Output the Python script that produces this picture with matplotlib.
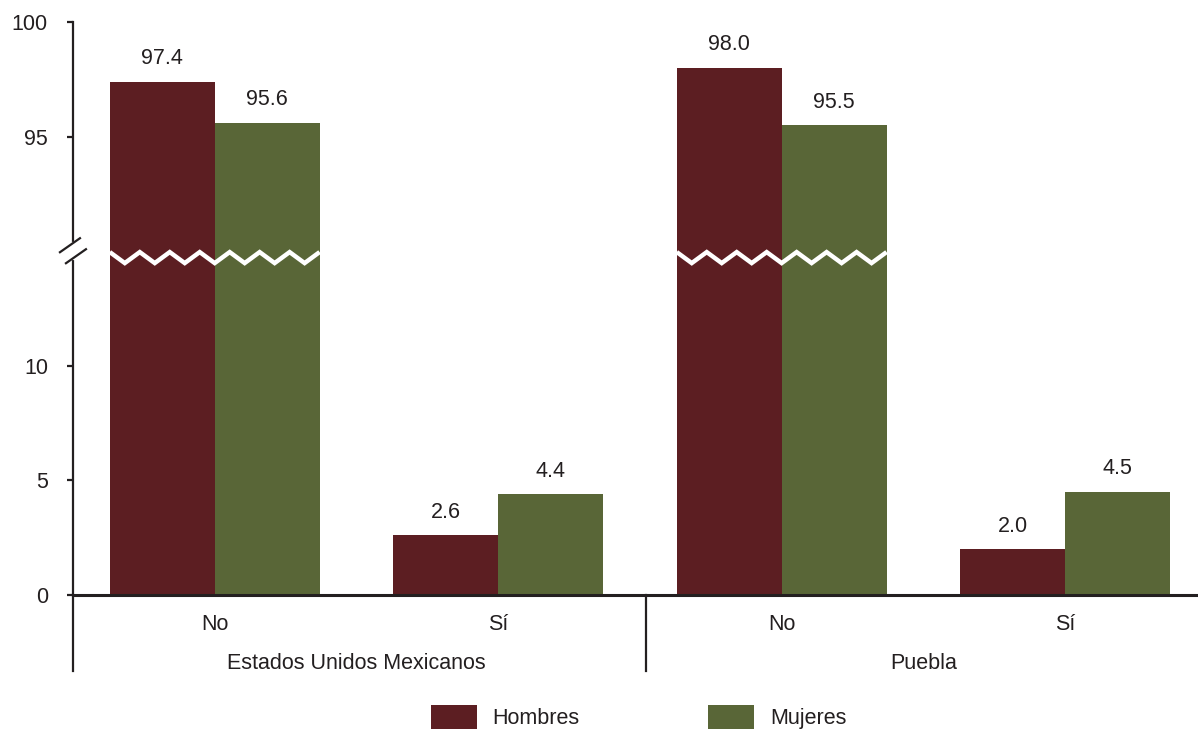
import numpy as np
import matplotlib.pyplot as plt
from matplotlib.transforms import blended_transform_factory, offset_copy

plt.rcParams['font.family'] = ['Liberation Sans', 'DejaVu Sans']

categories = ["No", "Sí", "No", "Sí"]
groups = ["Estados Unidos Mexicanos", "Puebla"]
hombres = [97.4, 2.6, 98.0, 2.0]
mujeres = [95.6, 4.4, 95.5, 4.5]
series_names = ["Hombres", "Mujeres"]
colors = ["#5c1e22", "#596637"]
yticks = [0, 5, 10, 95, 100]

text_color = "#231f20"
fs = 15.5

# eje con corte: 0-15 normal, 15-95 comprimido, 95-100 normal
brk_lo, brk_hi = 15, 95
xp = [-100, brk_lo, brk_hi, 200]
fp = [-100, brk_lo, brk_lo + 5, 200 - (brk_hi - brk_lo - 5)]

def fwd(v):
    return np.interp(v, xp, fp)

def inv(v):
    return np.interp(v, fp, xp)

fig = plt.figure(figsize=(11.98, 7.31), dpi=100)
ax = fig.add_axes([0.0609, 0.186, 0.939, 0.784])
ax.set_yscale('function', functions=(fwd, inv))

x = np.arange(len(categories))
w = 0.37
ax.bar(x - w/2, hombres, w, color=colors[0], label=series_names[0])
ax.bar(x + w/2, mujeres, w, color=colors[1], label=series_names[1])

for xs, vals in ((x - w/2, hombres), (x + w/2, mujeres)):
    for xi, v in zip(xs, vals):
        ax.annotate(f"{v:.1f}", (xi, v), xytext=(0, 9), textcoords='offset points',
                    ha='center', va='bottom', fontsize=fs, color=text_color)

ax.set_xlim(-0.5, -0.5 + 1125 / 283.5)
ax.set_ylim(0, 100)
ax.set_yticks(yticks)
ax.set_yticklabels([str(t) for t in yticks])
ax.yaxis.set_minor_locator(plt.NullLocator())

# zigzag blanco en las barras cortadas
zig_y = 14.72
amp = 0.24
for i, vals in enumerate(zip(hombres, mujeres)):
    if max(vals) > brk_hi:
        x0, x1 = x[i] - w, x[i] + w
        n = 14
        zx = np.linspace(x0, x1, n + 1)
        zy = zig_y + amp * np.where(np.arange(n + 1) % 2 == 0, 1, -1)
        ax.plot(zx, zy, color='white', lw=3.2, solid_joinstyle='miter',
                solid_capstyle='butt', zorder=3)

for side in ('top', 'right'):
    ax.spines[side].set_visible(False)
ax.spines['left'].set_color(text_color)
ax.spines['left'].set_linewidth(1.6)
ax.spines['bottom'].set_color(text_color)
ax.spines['bottom'].set_linewidth(2.2)

ax.tick_params(axis='y', direction='out', length=4, width=1.6, color=text_color,
               pad=14, labelsize=fs, labelcolor=text_color)
ax.set_xticks(x)
ax.set_xticklabels(categories)
ax.tick_params(axis='x', length=0, pad=14, labelsize=fs, labelcolor=text_color)

# marca de corte en el eje y (offsets en pixeles alrededor del centro del corte)
yb = (fwd(zig_y) + 0.3) / 25
ax.plot([0, 0], [yb - 7 / 573, yb + 7 / 573], color='white', lw=3, transform=ax.transAxes,
        clip_on=False, zorder=4)
for dx, dy in ((-3, 5.5), (3, -5.5)):
    tr = offset_copy(ax.transAxes, fig=fig, x=dx, y=dy, units='dots')
    ax.plot([-10 / 1125, 10 / 1125], [yb - 7 / 573, yb + 7 / 573], color=text_color,
            lw=1.6, transform=tr, clip_on=False, zorder=5)

# separadores y etiquetas de grupo bajo el eje
trans = blended_transform_factory(ax.transData, ax.transAxes)
for xs in (-0.5, 1.52):
    ax.plot([xs, xs], [0, -0.133], color=text_color, lw=1.6, transform=trans,
            clip_on=False)
for gi, g in enumerate(groups):
    ax.text(2 * gi + 0.5, -0.12, g, transform=trans, ha='center', va='center',
            fontsize=fs, color=text_color)

leg = ax.legend(loc='center', bbox_to_anchor=(0.533, 0.019), bbox_transform=fig.transFigure,
                ncol=2, frameon=False, fontsize=fs, handlelength=2.14, handleheight=1.3,
                handletextpad=0.75, columnspacing=5.95)
for t in leg.get_texts():
    t.set_color(text_color)

fig.savefig("out.png", dpi=100)
